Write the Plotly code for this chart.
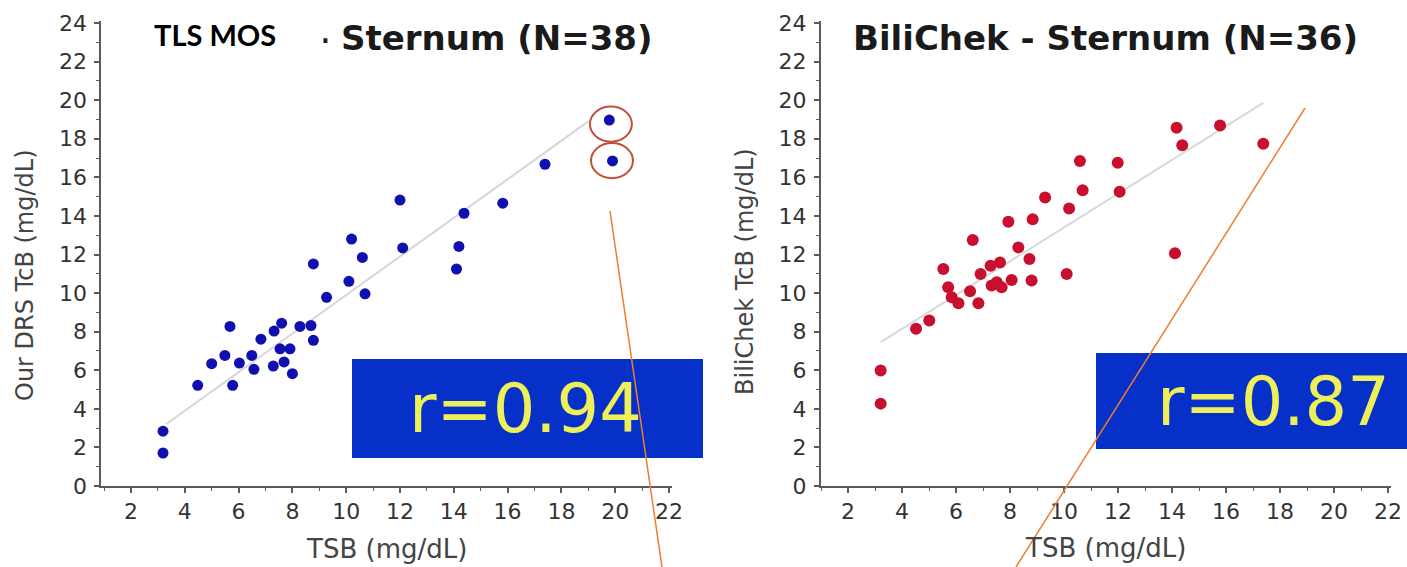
import plotly.graph_objects as go

W, H = 1407, 567

# ---- data ----
blue_x = [3.19, 3.19, 4.48, 5.00, 5.49, 5.68, 5.78, 6.03, 6.49, 6.57, 6.83, 7.29,
          7.32, 7.54, 7.60, 7.69, 7.91, 8.00, 8.28, 8.69, 8.78, 8.78, 9.27, 10.10,
          10.20, 10.60, 10.70, 12.00, 12.10, 14.10, 14.19, 14.38, 15.82, 17.39,
          19.78, 19.90]
blue_y = [2.84, 1.71, 5.22, 6.34, 6.77, 8.27, 5.22, 6.37, 6.77, 6.05, 7.61, 6.22,
          8.03, 7.11, 8.44, 6.43, 7.11, 5.82, 8.27, 8.32, 7.55, 11.51, 9.78, 10.61,
          12.80, 11.85, 9.96, 14.82, 12.34, 11.25, 12.42, 14.14, 14.66, 16.68,
          18.97, 16.85]

red_x = [3.21, 3.21, 4.52, 5.01, 5.53, 5.71, 5.84, 6.09, 6.52, 6.62, 6.83, 6.91,
         7.28, 7.32, 7.51, 7.63, 7.69, 7.94, 8.06, 8.31, 8.72, 8.80, 8.84, 9.30,
         10.10, 10.19, 10.59, 10.69, 11.99, 12.06, 14.11, 14.17, 14.38, 15.78, 17.38]
red_y = [5.99, 4.27, 8.15, 8.58, 11.25, 10.30, 9.78, 9.47, 10.09, 12.75, 9.47, 10.99,
         11.42, 10.39, 10.56, 11.59, 10.30, 13.70, 10.68, 12.37, 11.77, 10.65, 13.83, 14.95,
         10.99, 14.38, 16.85, 15.33, 16.76, 15.25, 12.06, 18.57, 17.66, 18.69, 17.74]

fit_left_x = [3.3, 19.0]
fit_left_y = [3.2, 18.9]
fit_right_x = [3.21, 17.38]
fit_right_y = [7.46, 19.86]

circled_x = [19.84, 19.88]
circled_y = [18.76, 16.87]

tick_vals_x = [2, 4, 6, 8, 10, 12, 14, 16, 18, 20, 22]
tick_vals_y = [0, 2, 4, 6, 8, 10, 12, 14, 16, 18, 20, 22, 24]

title_left = "- Sternum (N=38)"
title_left_cover = "TLS MOS"
title_right = "BiliChek - Sternum (N=36)"
xlabel = "TSB (mg/dL)"
ylabel_left = "Our DRS TcB (mg/dL)"
ylabel_right = "BiliChek TcB (mg/dL)"
r_left = "r=0.94"
r_right = "r=0.87"


def px(X):
    return X / W


def py(Y):
    return 1 - Y / H


fig = go.Figure()

fig.add_trace(go.Scatter(x=fit_left_x, y=fit_left_y, mode="lines",
                         line=dict(color="#d6d6d6", width=2), xaxis="x", yaxis="y",
                         showlegend=False, hoverinfo="skip"))
fig.add_trace(go.Scatter(x=blue_x, y=blue_y, mode="markers",
                         marker=dict(color="#1010b0", size=11), xaxis="x", yaxis="y",
                         showlegend=False))
fig.add_trace(go.Scatter(x=fit_right_x, y=fit_right_y, mode="lines",
                         line=dict(color="#d6dada", width=2), xaxis="x2", yaxis="y2",
                         showlegend=False, hoverinfo="skip"))
fig.add_trace(go.Scatter(x=red_x, y=red_y, mode="markers",
                         marker=dict(color="#c8102e", size=12), xaxis="x2", yaxis="y2",
                         showlegend=False))

tickfont = dict(family="DejaVu Sans", size=22, color="#333333")
axis_common = dict(showline=True, linecolor="#5a5a5a", linewidth=2, ticks="outside",
                   ticklen=5, tickwidth=1.5, tickcolor="#5a5a5a", showgrid=False,
                   zeroline=False, tickfont=tickfont, automargin=False,
                   minor=dict(dtick=1, tick0=0, ticks="outside", ticklen=3,
                              tickcolor="#5a5a5a", tickwidth=1))

ydom = [py(486), py(486 - 24.1 * 19.29)]

fig.update_layout(
    width=W, height=H, margin=dict(l=0, r=0, t=0, b=0),
    paper_bgcolor="white", plot_bgcolor="white",
    xaxis=dict(domain=[px(101.4), px(671.7)], range=[0.9, 22.1], tickvals=tick_vals_x,
               anchor="y", ticklabelstandoff=0, **axis_common),
    yaxis=dict(domain=ydom, range=[0, 24.1], tickvals=tick_vals_y, anchor="x",
               ticklabelstandoff=3, **axis_common),
    xaxis2=dict(domain=[px(821), px(1390.7)], range=[1.0, 22.1], tickvals=tick_vals_x,
                anchor="y2", ticklabelstandoff=0, **axis_common),
    yaxis2=dict(domain=ydom, range=[0, 24.1], tickvals=tick_vals_y, anchor="x2",
                ticklabelstandoff=3, **axis_common),
)

shapes = [
    dict(type="rect", xref="paper", yref="paper", x0=px(352), x1=px(703),
         y0=py(458), y1=py(359), fillcolor="#0630c8", line=dict(width=0)),
    dict(type="rect", xref="paper", yref="paper", x0=px(1096), x1=px(1407),
         y0=py(449), y1=py(353), fillcolor="#0630c8", line=dict(width=0)),
    dict(type="line", xref="paper", yref="paper", x0=px(610), y0=py(211),
         x1=px(662), y1=py(567), line=dict(color="#ed7d31", width=1.5)),
    dict(type="line", xref="paper", yref="paper", x0=px(1305), y0=py(108),
         x1=px(1016), y1=py(567), line=dict(color="#ed7d31", width=1.5)),
]
for cx, cy in zip(circled_x, circled_y):
    shapes.append(dict(type="circle", xref="x", yref="y", x0=cx - 0.78, x1=cx + 0.78,
                       y0=cy - 0.91, y1=cy + 0.91,
                       line=dict(color="#c0503a", width=2)))
fig.update_layout(shapes=shapes)

title_font = dict(family="DejaVu Sans", size=34, color="#1a1a1a")
anns = [
    dict(text="<b>" + title_left + "</b>", x=px(655), y=py(38), xanchor="right",
         yanchor="middle", font=title_font),
    dict(text=" ", x=px(219), y=py(27), xanchor="center", yanchor="middle",
         width=208, height=52, bgcolor="white", borderpad=0),
    dict(text="<b>" + title_left_cover + "</b>", x=px(214.5), y=py(34), xanchor="center",
         yanchor="middle", font=dict(family="Lato", size=29, color="black")),
    dict(text="<b>" + title_right + "</b>", x=px(1105), y=py(38), xanchor="center",
         yanchor="middle", font=title_font),
    dict(text=r_left, x=px(525), y=py(409), xanchor="center", yanchor="middle",
         font=dict(family="DejaVu Sans", size=67, color="#eef05a")),
    dict(text=r_right, x=px(1273), y=py(402), xanchor="center", yanchor="middle",
         font=dict(family="DejaVu Sans", size=67, color="#eef05a")),
    dict(text=xlabel, x=px(386), y=py(549), xanchor="center", yanchor="middle",
         font=dict(family="DejaVu Sans", size=26, color="#444444")),
    dict(text=xlabel, x=px(1105), y=py(548), xanchor="center", yanchor="middle",
         font=dict(family="DejaVu Sans", size=26, color="#444444")),
    dict(text=ylabel_left, x=px(25), y=py(275), xanchor="center", yanchor="middle",
         textangle=-90, font=dict(family="DejaVu Sans", size=24, color="#444444")),
    dict(text=ylabel_right, x=px(745), y=py(272), xanchor="center", yanchor="middle",
         textangle=-90, font=dict(family="DejaVu Sans", size=24, color="#444444")),
]
for a in anns:
    a.setdefault("xref", "paper")
    a.setdefault("yref", "paper")
    a.setdefault("showarrow", False)
fig.update_layout(annotations=anns)

fig.write_html("out.html")
